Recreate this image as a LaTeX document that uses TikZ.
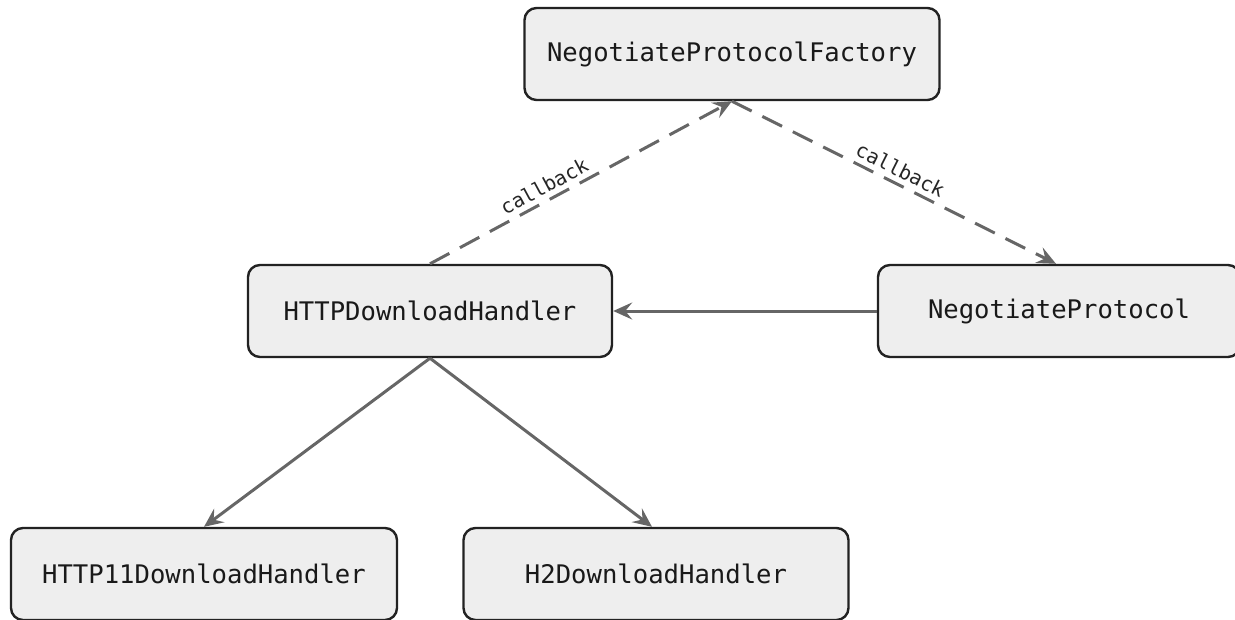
\documentclass[tikz,border=0pt]{standalone}
\usepackage{fontspec}
\setmonofont{DejaVu Sans Mono}
\usetikzlibrary{arrows.meta}
\definecolor{boxfill}{HTML}{EEEEEE}
\definecolor{boxline}{HTML}{222222}
\definecolor{linkgray}{HTML}{666666}
\tikzset{
  classbox/.style={draw=boxline, fill=boxfill, line width=2.4pt, rounded corners=12pt,
    minimum height=92pt, inner sep=0pt, font=\ttfamily\fontsize{25.6}{30}\selectfont, text=black!90},
  link/.style={draw=linkgray, line width=3pt, -{Stealth[length=19pt,width=17pt,inset=7pt]}},
  cblink/.style={link, dash pattern=on 22pt off 12pt},
  cblabel/.style={font=\ttfamily\fontsize{20}{24}\selectfont, text=black!85, sloped, above, inner sep=5pt}
}
\begin{document}
\begin{tikzpicture}[x=1pt, y=-1pt]
  \useasboundingbox (0,0) rectangle (1235,619);
  \node[classbox, minimum width=415pt] (factory) at (732,54) {NegotiateProtocolFactory};
  \node[classbox, minimum width=364pt] (http) at (430,311) {HTTPDownloadHandler};
  \node[classbox, minimum width=362pt] (nego) at (1059,311) {NegotiateProtocol};
  \node[classbox, minimum width=386pt] (http11) at (204,574) {HTTP11DownloadHandler};
  \node[classbox, minimum width=385pt] (h2) at (656,574) {H2DownloadHandler};

  \draw[cblink] (http.north) -- node[cblabel, pos=0.4] {callback} (factory.south);
  \draw[cblink] (factory.south) -- node[cblabel, pos=0.5] {callback} ([xshift=-3pt]nego.north);
  \draw[link] (nego.west) -- (http.east);
  \draw[link] (http.south) -- (http11.north);
  \draw[link] (http.south) -- ([xshift=-4pt]h2.north);
\end{tikzpicture}
\end{document}
